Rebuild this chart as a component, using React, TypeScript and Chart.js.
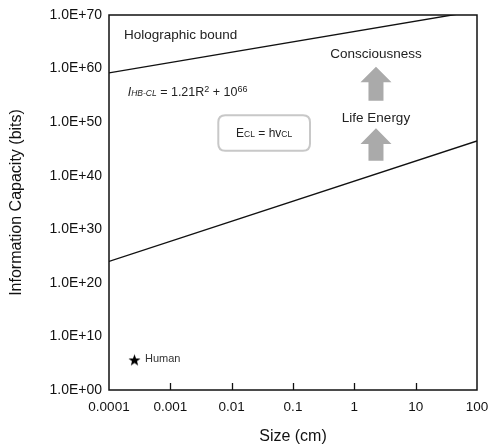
import React, { useEffect, useRef } from "react";
import { Chart, registerables } from "chart.js";

Chart.register(...registerables);

const xTickValues = [1e-4, 1e-3, 1e-2, 1e-1, 1, 10, 100];
const xTickLabels = ["0.0001", "0.001", "0.01", "0.1", "1", "10", "100"];
const yTickValues = [1, 1e10, 1e20, 1e30, 1e40, 1e50, 1e60, 1e70];
const yTickLabels = ["1.0E+00", "1.0E+10", "1.0E+20", "1.0E+30", "1.0E+40", "1.0E+50", "1.0E+60", "1.0E+70"];

const holographicX = [1e-4, 100];
const holographicY = [1.6e59, 6e70];
const lifeLineX = [1e-4, 100];
const lifeLineY = [1e24, 3e46];
const humanX = [2.6e-4];
const humanY = [4e5];

const FONT = "'Liberation Sans', Arial, Helvetica, sans-serif";
const INK = "#111";

function makeStar(): HTMLCanvasElement {
  const c = document.createElement("canvas");
  c.width = 13;
  c.height = 13;
  const g = c.getContext("2d")!;
  g.fillStyle = "#000";
  g.beginPath();
  const cx = 6.5, cy = 7, R = 6.3, r = 2.6;
  for (let i = 0; i < 10; i++) {
    const ang = -Math.PI / 2 + (i * Math.PI) / 5;
    const rad = i % 2 === 0 ? R : r;
    const px = cx + rad * Math.cos(ang);
    const py = cy + rad * Math.sin(ang);
    if (i === 0) g.moveTo(px, py);
    else g.lineTo(px, py);
  }
  g.closePath();
  g.fill();
  return c;
}

const decorPlugin = {
  id: "decor",
  afterDraw(chart: any) {
    const { ctx, chartArea: ca } = chart;
    const xs = chart.scales.x;
    const ys = chart.scales.y;
    const P = (lx: number, ly: number) => ({
      x: xs.getPixelForValue(Math.pow(10, lx)),
      y: ys.getPixelForValue(Math.pow(10, ly)),
    });
    ctx.save();

    // frame
    ctx.strokeStyle = INK;
    ctx.lineWidth = 1.5;
    ctx.strokeRect(ca.left, ca.top, ca.right - ca.left, ca.bottom - ca.top);

    // inward x ticks
    ctx.lineWidth = 1.3;
    xTickValues.slice(1, -1).forEach((v) => {
      const px = Math.round(xs.getPixelForValue(v)) + 0.5;
      ctx.beginPath();
      ctx.moveTo(px, ca.bottom);
      ctx.lineTo(px, ca.bottom - 7);
      ctx.stroke();
    });

    // Holographic bound label
    ctx.fillStyle = "#222";
    ctx.textBaseline = "middle";
    ctx.textAlign = "left";
    ctx.font = `13.5px ${FONT}`;
    let p = P(-3.755, 66.14);
    ctx.fillText("Holographic bound", p.x, p.y);

    // formula
    p = P(-3.695, 55.8);
    let x = p.x;
    const base = p.y + 4.5;
    ctx.textBaseline = "alphabetic";
    const piece = (t: string, f: string, dy: number) => {
      ctx.font = f;
      ctx.fillText(t, x, base + dy);
      x += ctx.measureText(t).width;
    };
    piece("I", `italic 12.5px ${FONT}`, 0);
    piece("HB-CL", `italic 8.5px ${FONT}`, 0.5);
    piece(" = 1.21R", `12.5px ${FONT}`, 0);
    piece("2", `9px ${FONT}`, -4);
    piece(" + 10", `12.5px ${FONT}`, 0);
    piece("66", `9px ${FONT}`, -4);

    // rounded box
    const b1 = P(-2.218, 51.28);
    const b2 = P(-0.723, 44.67);
    ctx.strokeStyle = "#c8c8c8";
    ctx.lineWidth = 2;
    const rr = 7;
    ctx.beginPath();
    ctx.moveTo(b1.x + rr, b1.y);
    ctx.lineTo(b2.x - rr, b1.y);
    ctx.quadraticCurveTo(b2.x, b1.y, b2.x, b1.y + rr);
    ctx.lineTo(b2.x, b2.y - rr);
    ctx.quadraticCurveTo(b2.x, b2.y, b2.x - rr, b2.y);
    ctx.lineTo(b1.x + rr, b2.y);
    ctx.quadraticCurveTo(b1.x, b2.y, b1.x, b2.y - rr);
    ctx.lineTo(b1.x, b1.y + rr);
    ctx.quadraticCurveTo(b1.x, b1.y, b1.x + rr, b1.y);
    ctx.closePath();
    ctx.stroke();

    // E_CL = hv_CL
    const parts: [string, string][] = [
      ["E", `12px ${FONT}`],
      ["CL", `8.5px ${FONT}`],
      [" = hv", `12px ${FONT}`],
      ["CL", `8.5px ${FONT}`],
    ];
    let tw = 0;
    parts.forEach(([t, f]) => {
      ctx.font = f;
      tw += ctx.measureText(t).width;
    });
    const ec = P(-1.44, 47.97);
    x = (b1.x + b2.x) / 2 - tw / 2;
    parts.forEach(([t, f]) => {
      ctx.font = f;
      ctx.fillStyle = "#222";
      ctx.fillText(t, x, ec.y + 4.3);
      x += ctx.measureText(t).width;
    });

    // Consciousness / Life Energy
    ctx.textAlign = "center";
    ctx.textBaseline = "middle";
    ctx.font = `13.5px ${FONT}`;
    p = P(0.353, 62.72);
    ctx.fillText("Consciousness", p.x, p.y);
    p = P(0.353, 50.72);
    ctx.fillText("Life Energy", p.x, p.y);

    // arrows
    const arrow = (tipL: number, baseL: number, botL: number) => {
      const t = P(0.353, tipL);
      const bs = P(0.353, baseL);
      const bt = P(0.353, botL);
      const hw = 15.5, sw = 7.5;
      ctx.fillStyle = "#aaaaaa";
      ctx.beginPath();
      ctx.moveTo(t.x, t.y);
      ctx.lineTo(t.x + hw, bs.y);
      ctx.lineTo(t.x + sw, bs.y);
      ctx.lineTo(t.x + sw, bt.y);
      ctx.lineTo(t.x - sw, bt.y);
      ctx.lineTo(t.x - sw, bs.y);
      ctx.lineTo(t.x - hw, bs.y);
      ctx.closePath();
      ctx.fill();
    };
    arrow(60.35, 57.44, 54.0);
    arrow(48.85, 45.92, 42.8);

    // Human label
    ctx.textAlign = "left";
    ctx.fillStyle = "#333";
    ctx.font = `11px ${FONT}`;
    p = P(-3.413, 5.79);
    ctx.fillText("Human", p.x, p.y);

    ctx.restore();
  },
};

export default function App() {
  const ref = useRef<HTMLCanvasElement | null>(null);
  useEffect(() => {
    if (!ref.current) return;
    const star = makeStar();
    const chart = new Chart(ref.current, {
      type: "scatter",
      data: {
        datasets: [
          {
            label: "Holographic bound",
            data: holographicX.map((v, i) => ({ x: v, y: holographicY[i] })),
            showLine: true,
            borderColor: INK,
            borderWidth: 1.4,
            pointRadius: 0,
          },
          {
            label: "Life",
            data: lifeLineX.map((v, i) => ({ x: v, y: lifeLineY[i] })),
            showLine: true,
            borderColor: INK,
            borderWidth: 1.4,
            pointRadius: 0,
          },
          {
            label: "Human",
            data: humanX.map((v, i) => ({ x: v, y: humanY[i] })),
            pointStyle: star as any,
            pointRadius: 6,
          },
        ],
      },
      options: {
        responsive: false,
        animation: false,
        devicePixelRatio: 1,
        layout: { padding: { top: 15, right: 12, left: 0, bottom: 0 } },
        plugins: { legend: { display: false }, tooltip: { enabled: false } },
        scales: {
          x: {
            type: "logarithmic",
            min: 1e-4,
            max: 100,
            afterBuildTicks: (s: any) => {
              s.ticks = xTickValues.map((v) => ({ value: v }));
            },
            afterFit: (s: any) => {
              s.height = 56;
              s.paddingLeft = 0;
              s.paddingRight = 0;
            },
            grid: { display: false, drawTicks: false, tickLength: 0 },
            border: { display: false },
            ticks: {
              autoSkip: false,
              maxRotation: 0,
              padding: 9,
              color: INK,
              font: { family: FONT, size: 13.5 },
              callback: (_v: any, i: number) => xTickLabels[i],
            },
            title: {
              display: true,
              text: "Size (cm)",
              color: INK,
              font: { family: FONT, size: 16, lineHeight: 1.2 },
              padding: 0,
            },
          },
          y: {
            type: "logarithmic",
            min: 1,
            max: 1e70,
            afterBuildTicks: (s: any) => {
              s.ticks = yTickValues.map((v) => ({ value: v }));
            },
            afterFit: (s: any) => {
              s.width = 109;
              s.paddingTop = 0;
              s.paddingBottom = 0;
            },
            grid: { display: false, drawTicks: false, tickLength: 0 },
            border: { display: false },
            ticks: {
              autoSkip: false,
              padding: 7,
              color: INK,
              font: { family: FONT, size: 14 },
              callback: (_v: any, i: number) => yTickLabels[i],
            },
            title: {
              display: true,
              text: "Information Capacity (bits)",
              color: INK,
              font: { family: FONT, size: 16, lineHeight: 1.2 },
              padding: { top: 7, bottom: 0 },
            },
          },
        },
      },
      plugins: [decorPlugin],
    });
    return () => chart.destroy();
  }, []);
  return (
    <div style={{ position: "absolute", left: 0, top: 0, width: 489, height: 446, background: "#fff" }}>
      <canvas ref={ref} width={489} height={446} />
    </div>
  );
}
